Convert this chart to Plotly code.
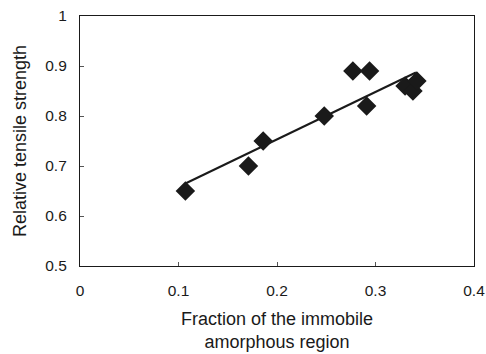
import plotly.graph_objects as go

# Data
frac_x = [0.107, 0.171, 0.186, 0.248, 0.277, 0.294, 0.291, 0.330, 0.338, 0.342]
strength_y = [0.65, 0.70, 0.75, 0.80, 0.89, 0.89, 0.82, 0.86, 0.85, 0.87]
trend_x = [0.107, 0.341]
trend_y = [0.665, 0.887]
x_ticks = [0, 0.1, 0.2, 0.3, 0.4]
x_ticktext = ["0", "0.1", "0.2", "0.3", "0.4"]
y_ticks = [0.5, 0.6, 0.7, 0.8, 0.9, 1.0]
y_ticktext = ["0.5", "0.6", "0.7", "0.8", "0.9", "1"]

fig = go.Figure()
fig.add_trace(go.Scatter(x=trend_x, y=trend_y, mode="lines",
                         line=dict(color="#1a1a1a", width=2), showlegend=False))
fig.add_trace(go.Scatter(x=frac_x, y=strength_y, mode="markers",
                         marker=dict(symbol="diamond", size=15, color="#1a1a1a"),
                         showlegend=False))

font = "Liberation Sans, Arial, sans-serif"
fig.update_layout(
    width=486, height=354,
    margin=dict(l=80, r=12, t=16, b=88),
    paper_bgcolor="white", plot_bgcolor="white",
    font=dict(family=font, color="#1a1a1a", size=15.5),
    xaxis=dict(range=[0, 0.4], tickvals=x_ticks, ticktext=x_ticktext,
               automargin=False,
               showgrid=False, zeroline=False, showline=True, mirror=True,
               linecolor="#1a1a1a", linewidth=1.2, ticks="inside", ticklen=4,
               tickcolor="#555", tickfont=dict(size=15.5), ticklabelstandoff=10,
               title=dict(text="Fraction of the immobile<br>amorphous region",
                          font=dict(size=18), standoff=14)),
    yaxis=dict(range=[0.5, 1.0], tickvals=y_ticks, ticktext=y_ticktext,
               automargin=False,
               showgrid=False, zeroline=False, showline=True, mirror=True,
               linecolor="#1a1a1a", linewidth=1.2, ticks="inside", ticklen=4,
               tickcolor="#555", tickfont=dict(size=15.5), ticklabelstandoff=9,
               title=dict(text="Relative tensile strength", font=dict(size=18),
                          standoff=13)),
)

fig.write_html("out.html")
